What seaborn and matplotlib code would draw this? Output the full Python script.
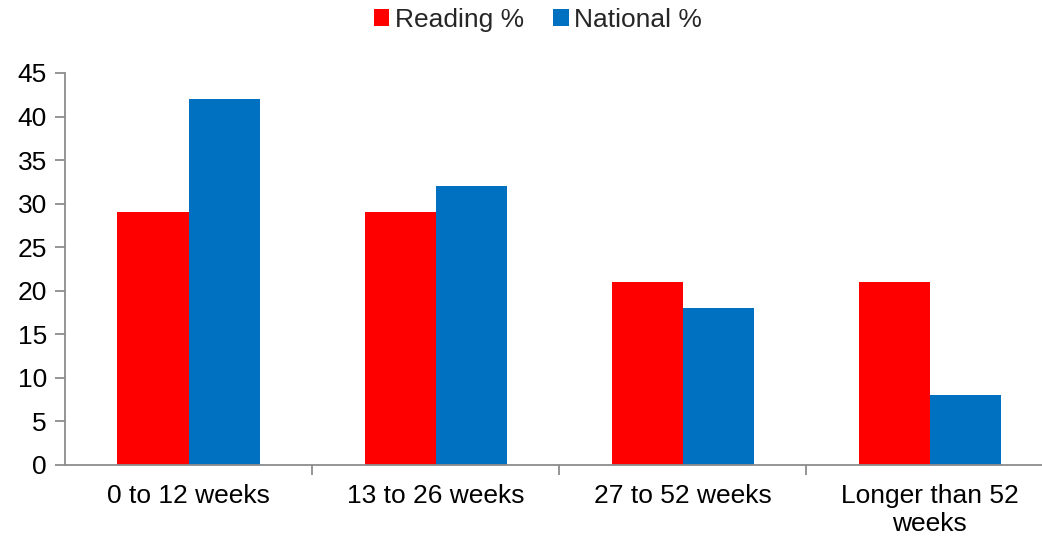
import matplotlib
matplotlib.use("Agg")
import matplotlib.pyplot as plt
import seaborn as sns
import pandas as pd
from matplotlib.patches import Patch

categories = ["0 to 12 weeks", "13 to 26 weeks", "27 to 52 weeks", "Longer than 52\nweeks"]
reading = [29, 29, 21, 21]
national = [42, 32, 18, 8]
series_names = ["Reading %", "National %"]
colors = ["#FF0000", "#0070C0"]
yticks = [0, 5, 10, 15, 20, 25, 30, 35, 40, 45]

df = pd.DataFrame({
    "cat": categories * 2,
    "val": reading + national,
    "series": [series_names[0]] * 4 + [series_names[1]] * 4,
})

sns.set_theme(style="white")
plt.rcParams["font.family"] = ["Liberation Sans", "DejaVu Sans"]

fig = plt.figure(figsize=(10.42, 5.39), dpi=100)
ax = fig.add_axes([65 / 1042, (539 - 465) / 539, (1042 - 65) / 1042, (465 - 73) / 539])

sns.barplot(data=df, x="cat", y="val", hue="series", palette=colors,
            width=0.575, saturation=1, ax=ax, legend=False, linewidth=0, edgecolor="none")

ax.set_yticks(yticks)
ax.set_xticks([0, 1, 2, 3])
ax.set_xticklabels(categories)
ax.set_xticks([0.5, 1.5, 2.5], minor=True)
ax.set_xlim(-0.5, 3.455)
ax.set_ylim(0, 45)
ax.set_xlabel("")
ax.set_ylabel("")

for s in ["top", "right"]:
    ax.spines[s].set_visible(False)
for s in ["left", "bottom"]:
    ax.spines[s].set_color("#8c8c8c")
    ax.spines[s].set_linewidth(1.3)

ax.tick_params(axis="y", which="both", left=True, length=7, width=1.3, color="#8c8c8c",
               labelsize=19, labelcolor="black", pad=6)
ax.tick_params(axis="x", which="major", bottom=False, labelsize=19, labelcolor="black", pad=8)
ax.tick_params(axis="x", which="minor", bottom=True, length=7, width=1.3, color="#8c8c8c")
ax.grid(False)

handles = [Patch(facecolor=c, edgecolor="none") for c in colors]
fig.legend(handles, series_names, loc="center", bbox_to_anchor=(0.516, 0.963),
           ncol=2, frameon=False, fontsize=19, handlelength=0.6, handleheight=0.6,
           handletextpad=0.2, columnspacing=1.1, borderpad=0)

fig.savefig("out.png", dpi=100)
